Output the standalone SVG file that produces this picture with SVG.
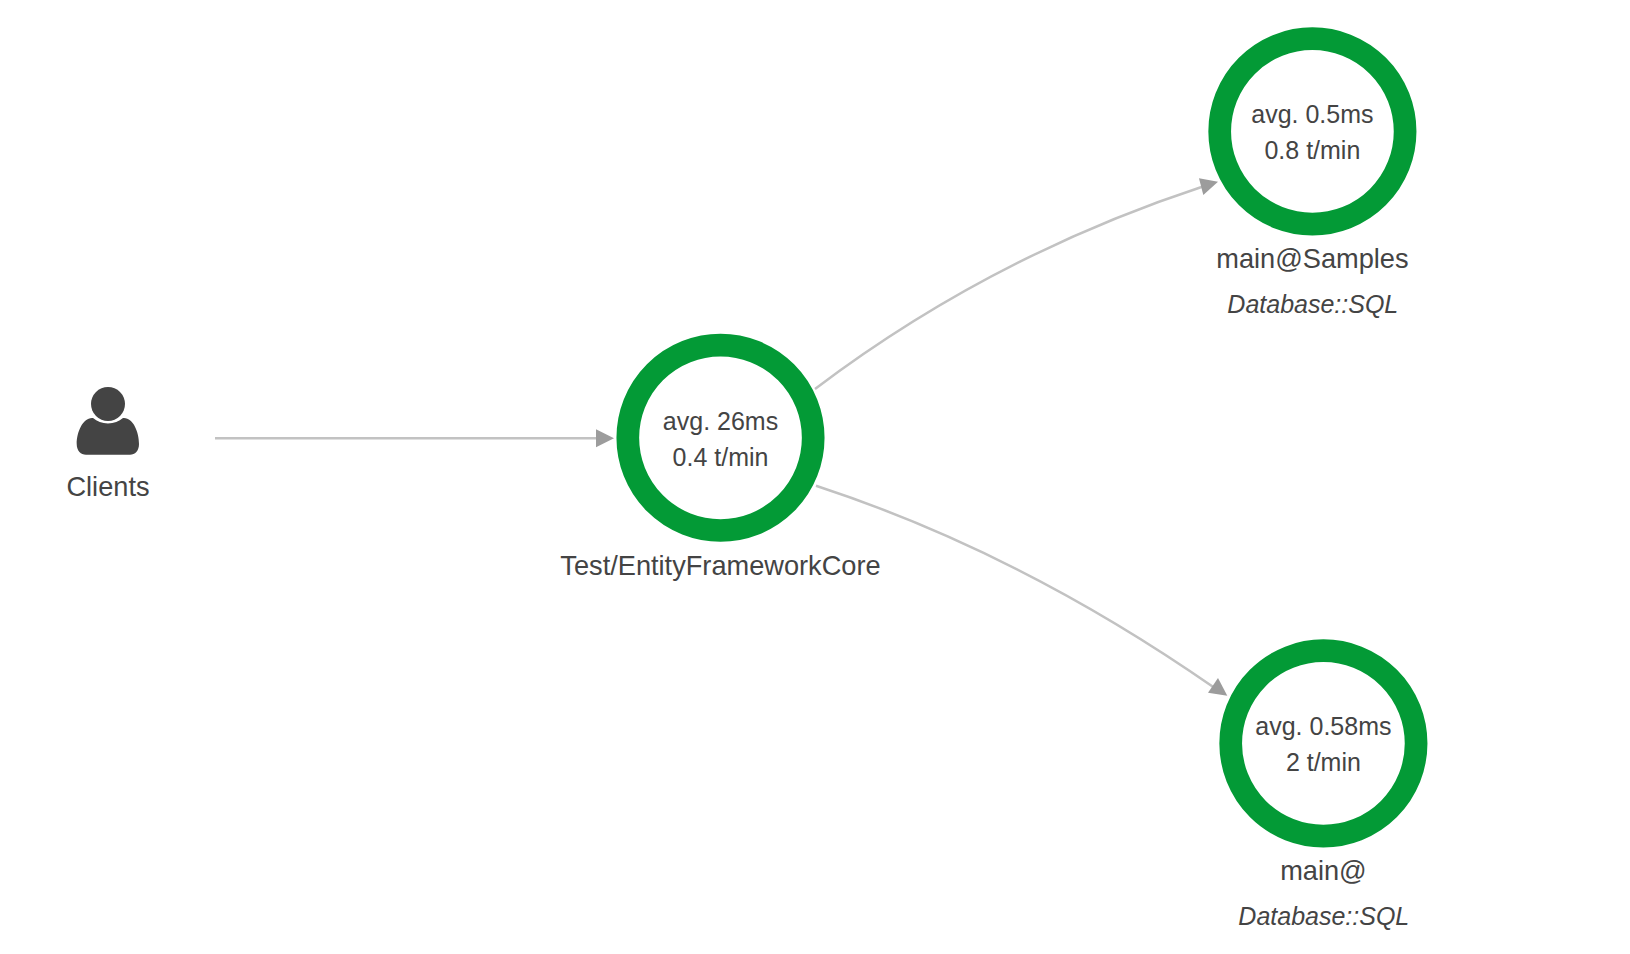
<svg xmlns="http://www.w3.org/2000/svg" width="1630" height="954" viewBox="0 0 1630 954">
<style>
text{font-family:"Liberation Sans",Arial,sans-serif;fill:#444;text-anchor:middle}
.m{font-size:25px}
.n{font-size:27.2px}
.t{font-size:25px;font-style:italic}
.ring{fill:#fff;stroke:#039a36;stroke-width:22.7}
.e{fill:none;stroke:#c2c2c2;stroke-width:2.5}
.a{fill:#9c9c9c;stroke:none}
</style>
<rect width="1630" height="954" fill="#fff"/>
<g id="connectors">
<path class="e" d="M215 438.300 L598 438.300"/>
<path class="a" d="M614 438.300 L596 429.300 L596 447.300 Z"/>
<path class="e" d="M815 389 Q990 256.500 1203 186.500"/>
<path class="a" d="M1218 181.700 L1199 178.300 L1203.300 195 Z"/>
<path class="e" d="M816 485.700 Q1020 552.500 1214 687.500"/>
<path class="a" d="M1227.300 695.700 L1218 678 L1208 692.700 Z"/>
</g>
<g id="clients">
<circle cx="108" cy="404" r="17" fill="#444"/>
<path fill="#444" d="M93 418 C97 421.500 102 423.400 108 423.400 C114 423.400 119 421.500 123 418 C133 417 139 432 139 444 C139 451 135 454.700 130 454.700 L86 454.700 C81 454.700 76.700 451 76.700 444 C76.700 432 83 417 93 418 Z"/>
<text class="n" x="108" y="495.600">Clients</text>
</g>
<g id="node-core">
<circle class="ring" cx="720.500" cy="437.800" r="92.700"/>
<text class="m" x="720.500" y="430">avg. 26ms</text>
<text class="m" x="720.500" y="466">0.4 t/min</text>
<text class="n" x="720.500" y="574.600">Test/EntityFrameworkCore</text>
</g>
<g id="node-samples">
<circle class="ring" cx="1312.400" cy="131.400" r="92.700"/>
<text class="m" x="1312.400" y="123">avg. 0.5ms</text>
<text class="m" x="1312.400" y="159">0.8 t/min</text>
<text class="n" x="1312.400" y="267.600">main@Samples</text>
<text class="t" x="1312.800" y="312.700">Database::SQL</text>
</g>
<g id="node-main">
<circle class="ring" cx="1323.400" cy="743.400" r="92.700"/>
<text class="m" x="1323.400" y="735">avg. 0.58ms</text>
<text class="m" x="1323.400" y="771">2 t/min</text>
<text class="n" x="1323.400" y="880">main@</text>
<text class="t" x="1323.800" y="925">Database::SQL</text>
</g>
</svg>
